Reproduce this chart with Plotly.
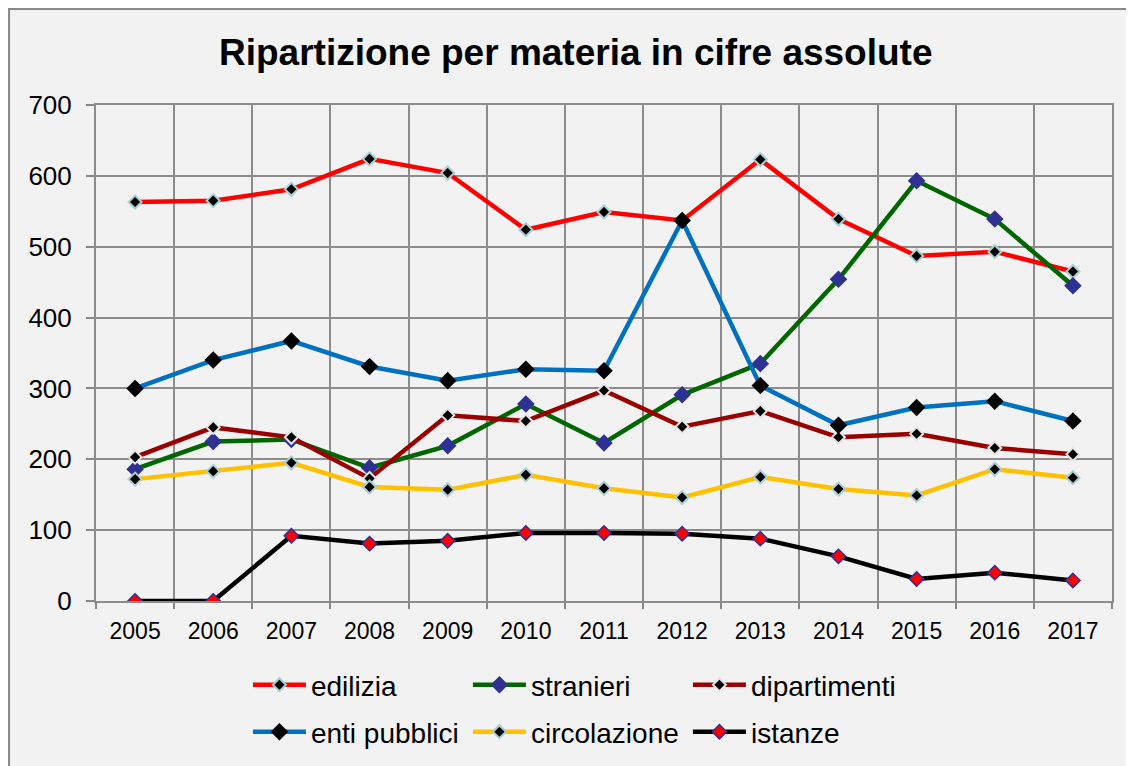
import plotly.graph_objects as go

years = ["2005", "2006", "2007", "2008", "2009", "2010", "2011", "2012", "2013", "2014", "2015", "2016", "2017"]
edilizia = [563, 565, 581, 624, 604, 524, 549, 537, 623, 539, 487, 493, 465]
stranieri = [186, 225, 228, 188, 219, 278, 223, 291, 335, 454, 593, 539, 445]
dipartimenti = [203, 245, 231, 173, 262, 254, 297, 246, 268, 231, 236, 216, 207]
enti_pubblici = [300, 340, 367, 331, 311, 327, 325, 537, 304, 248, 273, 282, 254]
circolazione = [172, 183, 195, 161, 157, 178, 159, 146, 175, 158, 149, 186, 174]
istanze = [0, 0, 92, 81, 85, 96, 96, 95, 88, 63, 31, 40, 29]

FONT = "Liberation Sans, Arial, sans-serif"
W, H = 1126, 758
L, R, T, B = 88, 1104.5, 97, 593
PW, PH = R - L, B - T

series = [
    ("edilizia", edilizia, "#FF0000", dict(color="#000000", size=10, line=dict(color="#A9CDD0", width=2)), "legend"),
    ("stranieri", stranieri, "#006600", dict(color="#2E3192", size=13.5, line=dict(width=0)), "legend"),
    ("dipartimenti", dipartimenti, "#990000", dict(color="#000000", size=10, line=dict(color="#E4E4E4", width=2)), "legend"),
    ("enti pubblici", enti_pubblici, "#0070C0", dict(color="#000000", size=13.5, line=dict(width=0)), "legend2"),
    ("circolazione", circolazione, "#FFC000", dict(color="#000000", size=10, line=dict(color="#A9CDD0", width=2)), "legend2"),
    ("istanze", istanze, "#000000", dict(color="#FF0000", size=11, line=dict(color="#2E3192", width=1.5)), "legend2"),
]

fig = go.Figure()
for name, vals, col, mk, lg in series:
    fig.add_trace(go.Scatter(
        x=years, y=vals, name=name, mode="lines+markers",
        line=dict(color=col, width=4.5),
        marker=dict(symbol="diamond", **mk),
        legend=lg,
    ))

def px2x(px):
    return (px - L) / PW

def px2y(py):
    return (B - py) / PH

legend_common = dict(
    orientation="h", xanchor="left", yanchor="middle",
    font=dict(family=FONT, size=28, color="#000000"),
    bgcolor="rgba(0,0,0,0)", itemwidth=53, entrywidth=152,
    tracegroupgap=0,
)

fig.update_layout(
    width=W, height=H,
    margin=dict(l=L, r=W - R, t=T, b=H - B, pad=0, autoexpand=False),
    paper_bgcolor="#F2F2F2",
    plot_bgcolor="#F2F2F2",
    showlegend=True,
    title=dict(
        text="<b>Ripartizione per materia in cifre assolute</b>",
        font=dict(family=FONT, size=37, color="#000000"),
        x=px2x(568), xref="paper", xanchor="center",
        y=1 - 44 / H, yref="container", yanchor="middle",
    ),
    legend=dict(x=px2x(240), y=px2y(677), **legend_common),
    legend2=dict(x=px2x(240), y=px2y(724), **legend_common),
    xaxis=dict(
        type="category", range=[-0.5, 12.5],
        tickson="boundaries", ticks="outside", ticklen=6, tickwidth=2, tickcolor="#888888",
        showgrid=True, gridcolor="#8C8C8C", gridwidth=2,
        showline=True, linecolor="#8C8C8C", linewidth=2, mirror=True,
        tickfont=dict(family=FONT, size=23, color="#000000"),
        ticklabelstandoff=8,
        fixedrange=True,
    ),
    yaxis=dict(
        range=[0, 700], dtick=100, tick0=0,
        ticks="outside", ticklen=8, tickwidth=2, tickcolor="#888888",
        showgrid=True, gridcolor="#8C8C8C", gridwidth=2,
        showline=True, linecolor="#8C8C8C", linewidth=2, mirror=True,
        zeroline=False,
        tickfont=dict(family=FONT, size=26, color="#000000"),
        ticklabelstandoff=9,
        fixedrange=True,
    ),
    shapes=[dict(
        type="rect", xref="paper", yref="paper",
        x0=px2x(1), x1=px2x(W + 20), y0=px2y(H + 20), y1=px2y(1),
        line=dict(color="#888888", width=2), fillcolor="rgba(0,0,0,0)", layer="below",
    )],
)

fig.write_html("out.html")
